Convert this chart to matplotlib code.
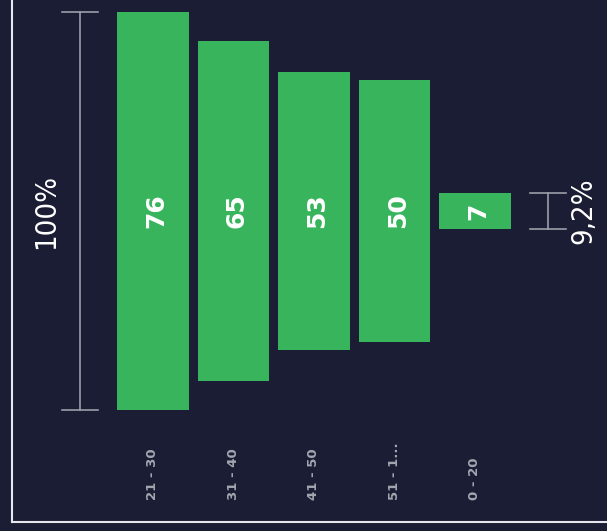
import matplotlib
matplotlib.use("Agg")
import matplotlib.pyplot as plt
from matplotlib.lines import Line2D

categories = ["21 - 30", "31 - 40", "41 - 50", "51 - 1...", "0 - 20"]
values = [76, 65, 53, 50, 7]
top_pct = "100%"
bottom_pct = "9,2%"

BG = "#1a1d33"
GREEN = "#38b45c"
GRAY = "#9b9da8"

fig = plt.figure(figsize=(6.07, 5.31), dpi=100, facecolor=BG)
ax = fig.add_axes([0, 0, 1, 1])
ax.set_facecolor(BG)

x = list(range(len(values)))
bottoms = [-v / 2 for v in values]
ax.bar(x, values, bottom=bottoms, width=0.89, color=GREEN, linewidth=0)

for xi, v in zip(x, values):
    ax.text(xi + 0.04, 0, str(v), rotation=90, ha="center", va="center",
            color="white", fontsize=18, fontweight="heavy",
            family="DejaVu Sans")

for xi, c in zip(x, categories):
    ax.text(xi, -55.2, c, rotation=90, ha="center", va="bottom",
            color="#a3a5b0", fontsize=9.5, fontweight="bold")

# brackets
def bracket(xc, v, label, tx):
    h = v / 2
    ax.plot([xc, xc], [-h, h], color=GRAY, lw=1.2)
    ax.plot([xc - 0.22, xc + 0.22], [h, h], color=GRAY, lw=1.2)
    ax.plot([xc - 0.22, xc + 0.22], [-h, -h], color=GRAY, lw=1.2)
    ax.text(tx, 0, label, rotation=90, ha="center", va="center",
            color="white", fontsize=21, fontstretch="condensed",
            family="DejaVu Sans")

bracket(-0.907, values[0], top_pct, -1.33)
bracket(4.907, values[-1], bottom_pct, 5.35)

ax.set_xlim(-1.9006, 5.64)
ax.set_ylim(-61.1, 40.29)
ax.axis("off")

# frame lines
fig.add_artist(Line2D([12 / 607, 12 / 607], [1, 1 - 522 / 531], color="#e6e6ee", lw=1.5))
fig.add_artist(Line2D([12 / 607, 1], [1 - 522 / 531, 1 - 522 / 531], color="#e6e6ee", lw=1.5))

fig.savefig("out.png", dpi=100, facecolor=BG)
